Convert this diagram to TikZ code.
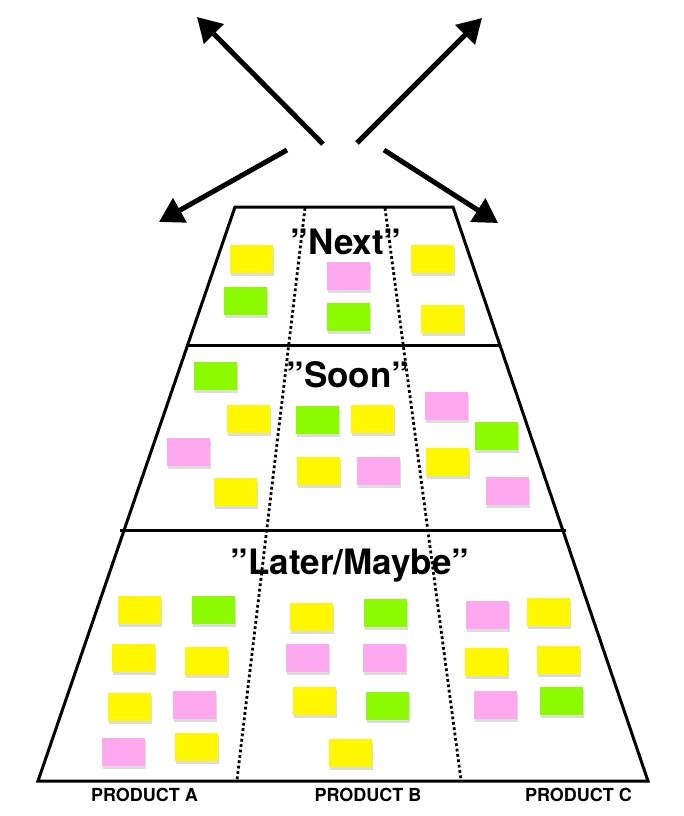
\documentclass[tikz,border=0pt]{standalone}
\usepackage{fontspec}
\setmainfont{TeX Gyre Heros}
\usetikzlibrary{arrows.meta,shadows}
\definecolor{noteY}{RGB}{255,247,0}
\definecolor{noteG}{RGB}{140,250,0}
\definecolor{noteP}{RGB}{255,168,240}
\tikzset{
  sticky/.style={draw=none,anchor=north west,minimum width=43pt,minimum height=28pt,inner sep=0pt,
    drop shadow={opacity=0.28,shadow xshift=1pt,shadow yshift=-2.5pt}},
  frame/.style={line width=3pt,line join=miter},
  divider/.style={line width=2.8pt,dash pattern=on 2.8pt off 2.6pt},
  bigarrow/.style={line width=5pt,-{Triangle[length=24pt,width=27pt]}},
  stage/.style={font=\fontsize{35}{40}\selectfont\bfseries,anchor=base,inner sep=0pt},
  product/.style={font=\fontsize{18}{20}\selectfont\bfseries,anchor=base,inner sep=0pt}
}
\newcommand\sticky[4]{\node[sticky,fill=#2] (#1) at (#3,#4) {};}
\begin{document}
\begin{tikzpicture}[x=1pt,y=-1pt]
\useasboundingbox (0,0) rectangle (684,816);
% arrows
\coordinate (a1s) at (323,144); \coordinate (a1e) at (197,17);
\coordinate (a2s) at (357,143); \coordinate (a2e) at (482,18);
\coordinate (a3s) at (287,150); \coordinate (a3e) at (159,222);
\coordinate (a4s) at (384,150); \coordinate (a4e) at (498,223);
\draw[bigarrow] (a1s) -- (a1e);
\draw[bigarrow] (a2s) -- (a2e);
\draw[bigarrow] (a3s) -- (a3e);
\draw[bigarrow] (a4s) -- (a4e);
% frame
\coordinate (tl) at (235,207); \coordinate (tr) at (453,207);
\coordinate (br) at (648,781); \coordinate (bl) at (38,781);
\coordinate (h1l) at (188,345); \coordinate (h1r) at (500,345);
\coordinate (h2l) at (120,530); \coordinate (h2r) at (566,530);
\coordinate (d1t) at (305,208); \coordinate (d1b) at (237,780);
\coordinate (d2t) at (385,208); \coordinate (d2b) at (461,780);
\draw[divider] (d1t) -- (d1b);
\draw[divider] (d2t) -- (d2b);
\draw[frame] (tl) -- (tr) -- (br) -- (bl) -- cycle;
\draw[frame] (h1l) -- (h1r);
\draw[frame] (h2l) -- (h2r);
% stage labels
\node[stage] (next) at (346,254) {”Next”};
\node[stage] (soon) at (348,387) {”Soon”};
\node[stage] (later) at (350,574) {”Later/Maybe”};
% product labels
\node[product] (pa) at (144.5,801) {PRODUCT A};
\node[product] (pb) at (368,801) {PRODUCT B};
\node[product] (pc) at (578.5,801) {PRODUCT C};
% Next notes
\sticky{n1}{noteY}{230}{245}
\sticky{n2}{noteG}{224}{287}
\sticky{n3}{noteP}{327}{262}
\sticky{n4}{noteG}{327}{303}
\sticky{n5}{noteY}{411}{245}
\sticky{n6}{noteY}{421}{305}
% Soon notes
\sticky{s1}{noteG}{194}{362}
\sticky{s2}{noteY}{227}{405}
\sticky{s3}{noteP}{167}{438}
\sticky{s4}{noteY}{214}{478}
\sticky{s5}{noteG}{296}{406}
\sticky{s6}{noteY}{351}{405}
\sticky{s7}{noteY}{297}{457}
\sticky{s8}{noteP}{357}{457}
\sticky{s9}{noteP}{425}{392}
\sticky{s10}{noteG}{475}{422}
\sticky{s11}{noteY}{426}{448}
\sticky{s12}{noteP}{486}{477}
% Later notes
\sticky{l1}{noteY}{118}{596}
\sticky{l2}{noteG}{192}{596}
\sticky{l3}{noteY}{112}{644}
\sticky{l4}{noteY}{185}{647}
\sticky{l5}{noteY}{108}{693}
\sticky{l6}{noteP}{173}{691}
\sticky{l7}{noteP}{102}{738}
\sticky{l8}{noteY}{175}{733}
\sticky{m1}{noteY}{290}{603}
\sticky{m2}{noteG}{364}{599}
\sticky{m3}{noteP}{286}{644}
\sticky{m4}{noteP}{363}{644}
\sticky{m5}{noteY}{293}{687}
\sticky{m6}{noteG}{366}{692}
\sticky{m7}{noteY}{329}{739}
\sticky{r1}{noteP}{466}{601}
\sticky{r2}{noteY}{527}{598}
\sticky{r3}{noteY}{465}{648}
\sticky{r4}{noteY}{537}{646}
\sticky{r5}{noteP}{474}{691}
\sticky{r6}{noteG}{540}{687}
\end{tikzpicture}
\end{document}
